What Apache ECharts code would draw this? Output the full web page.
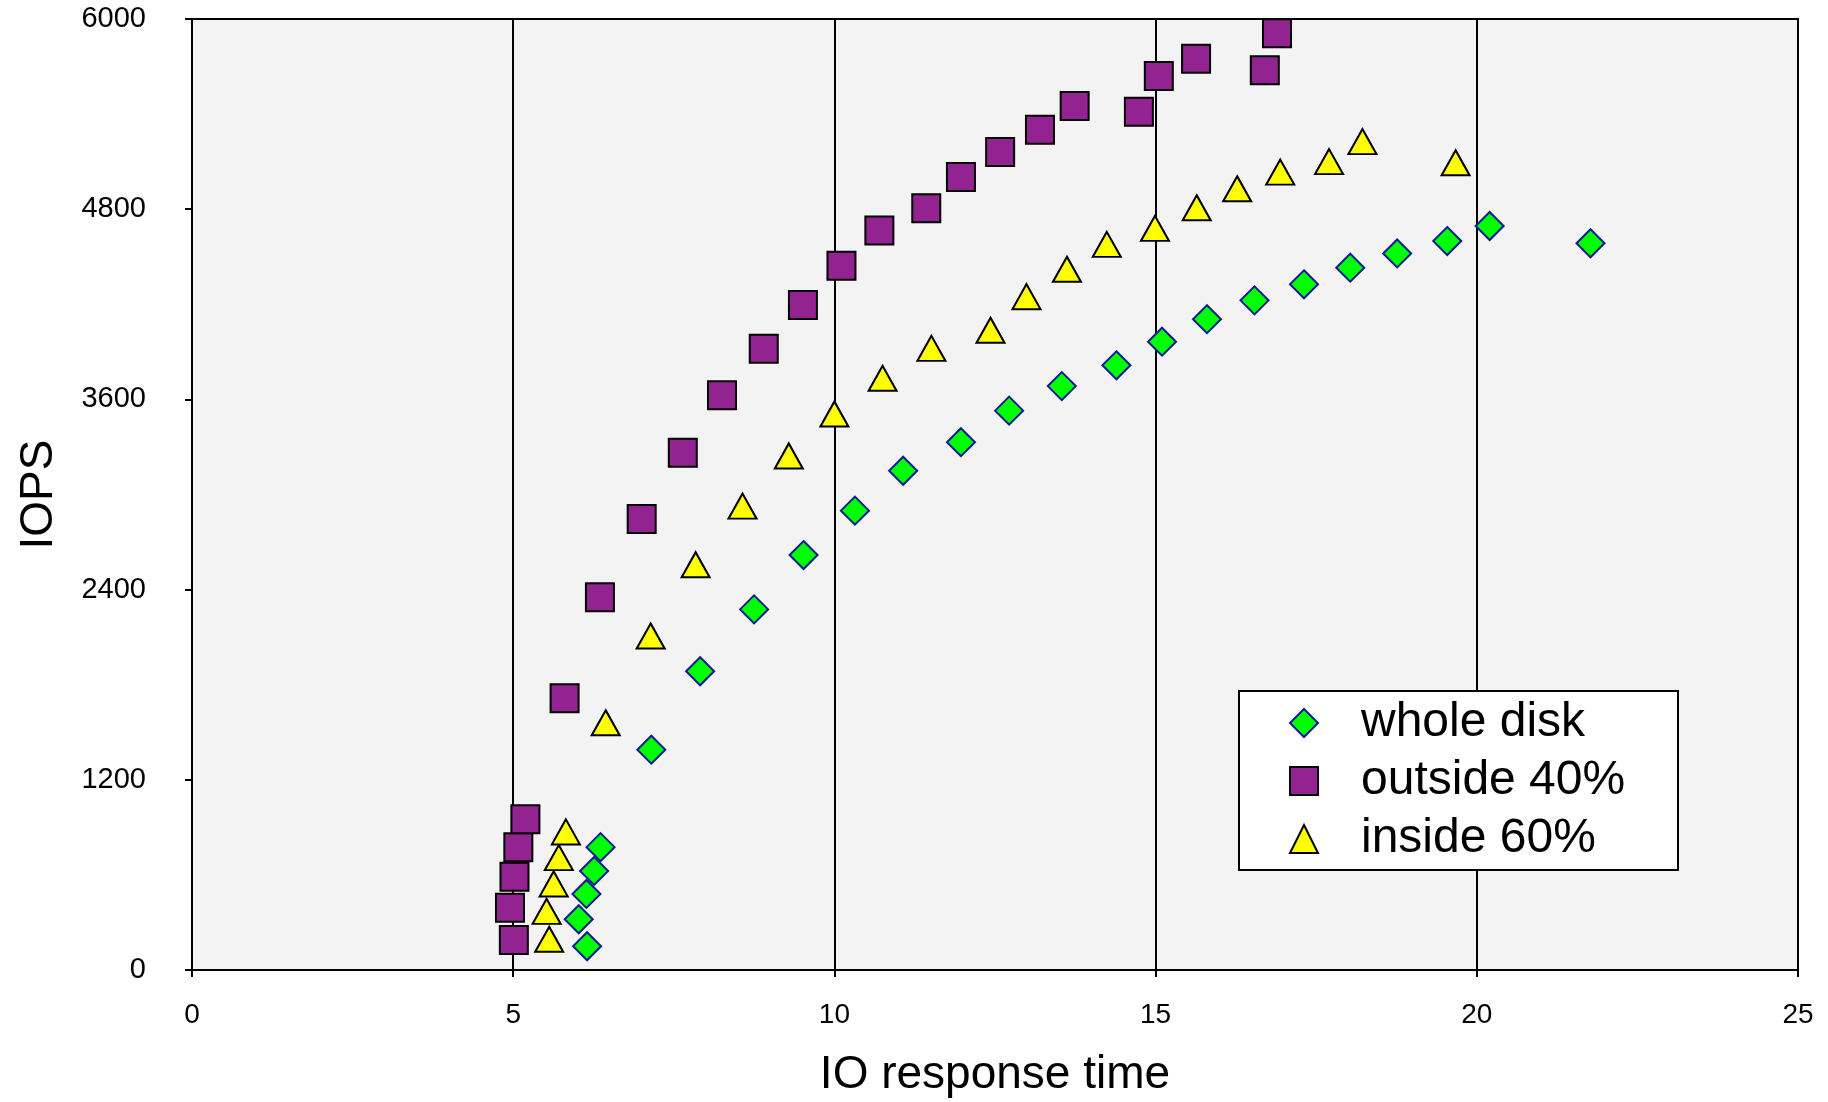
<!DOCTYPE html>
<html>
<head>
<meta charset="utf-8">
<script src="https://cdn.jsdelivr.net/npm/echarts@6/dist/echarts.min.js"></script>
<style>
html,body{margin:0;padding:0;background:#ffffff;width:1828px;height:1102px;overflow:hidden;}
#chart{width:1828px;height:1102px;display:block;}
</style>
</head>
<body>
<div id="chart"></div>
<script>
// ---- data ----
var seriesNames = ['whole disk', 'outside 40%', 'inside 60%'];

var wholeDiskX = [6.15, 6.02, 6.14, 6.26, 6.36, 7.15, 7.91, 8.75, 9.52, 10.32, 11.07, 11.97, 12.72, 13.54, 14.39, 15.10, 15.80, 16.54, 17.31, 18.03, 18.76, 19.54, 20.20, 21.77];
var wholeDiskY = [150, 320, 480, 625, 775, 1390, 1885, 2275, 2618, 2898, 3150, 3330, 3529, 3684, 3815, 3964, 4106, 4225, 4326, 4431, 4521, 4599, 4694, 4585];

var outsideX = [5.01, 4.95, 5.02, 5.08, 5.19, 5.80, 6.35, 7.00, 7.64, 8.25, 8.90, 9.51, 10.11, 10.70, 11.43, 11.97, 12.58, 13.20, 13.74, 14.74, 15.05, 15.63, 16.70, 16.89];
var outsideY = [190, 393, 589, 774, 951, 1714, 2351, 2845, 3264, 3626, 3920, 4196, 4444, 4665, 4806, 5003, 5161, 5301, 5451, 5415, 5640, 5750, 5676, 5910];

var insideX = [5.56, 5.52, 5.63, 5.71, 5.82, 6.44, 7.14, 7.84, 8.57, 9.29, 10.00, 10.75, 11.51, 12.43, 12.99, 13.62, 14.24, 14.99, 15.64, 16.27, 16.94, 17.70, 18.22, 19.67];
var insideY = [194, 370, 543, 709, 871, 1560, 2107, 2557, 2927, 3243, 3508, 3733, 3922, 4036, 4248, 4421, 4578, 4679, 4809, 4929, 5034, 5100, 5226, 5093];

var xAxisTitle = 'IO response time';
var yAxisTitle = 'IOPS';

function pairs(xs, ys) {
  var out = [];
  for (var i = 0; i < xs.length; i++) out.push([xs[i], ys[i]]);
  return out;
}

var FONT = '"Liberation Sans", Arial, Helvetica, sans-serif';
var chart = echarts.init(document.getElementById('chart'), null, {renderer: 'canvas', width: 1828, height: 1102});

var option = {
  animation: false,
  backgroundColor: '#ffffff',
  grid: {
    left: 192, top: 19, right: 30, bottom: 132,
    containLabel: false, outerBoundsMode: 'none',
    show: true, backgroundColor: '#f3f3f3', borderColor: '#000000', borderWidth: 2
  },
  xAxis: {
    type: 'value', min: 0, max: 25, interval: 5,
    name: xAxisTitle, nameLocation: 'middle', nameGap: 82,
    nameTextStyle: {fontFamily: FONT, fontSize: 46, color: '#000'},
    axisLine: {show: true, onZero: false, lineStyle: {color: '#000', width: 2}},
    axisTick: {show: true, length: 7, lineStyle: {color: '#000', width: 2}},
    axisLabel: {fontFamily: FONT, fontSize: 28, color: '#000', margin: 31},
    splitLine: {show: true, lineStyle: {color: '#000', width: 2}}
  },
  yAxis: {
    type: 'value', min: 0, max: 6000, interval: 1200,
    name: yAxisTitle, nameLocation: 'middle', nameGap: 130, nameRotate: 90,
    nameTextStyle: {fontFamily: FONT, fontSize: 46, color: '#000'},
    axisLine: {show: true, onZero: false, lineStyle: {color: '#000', width: 2}},
    axisTick: {show: true, length: 7, lineStyle: {color: '#000', width: 2}},
    axisLabel: {fontFamily: FONT, fontSize: 29, color: '#000', margin: 46,
      formatter: function (v) { return String(v); }},
    splitLine: {show: false}
  },
  graphic: [{
    type: 'rect', z: 10,
    shape: {x: 1239, y: 691, width: 439, height: 179},
    style: {fill: '#ffffff', stroke: '#000000', lineWidth: 2}
  }],
  legend: {
    orient: 'vertical', left: 1289, top: 699, padding: 0, z: 20,
    itemWidth: 28, itemHeight: 28, itemGap: 10,
    textStyle: {fontFamily: FONT, fontSize: 48, lineHeight: 48, color: '#000', padding: [0, 0, 0, 38]},
    data: seriesNames
  },
  series: [
    {
      name: seriesNames[0], type: 'scatter', symbol: 'diamond', symbolSize: [28, 28], z: 3,
      itemStyle: {color: '#00ff00', borderColor: '#0d1a99', borderWidth: 2, opacity: 1},
      data: pairs(wholeDiskX, wholeDiskY)
    },
    {
      name: seriesNames[1], type: 'scatter', symbol: 'rect', symbolSize: [28, 28], z: 3,
      itemStyle: {color: '#922390', borderColor: '#000000', borderWidth: 2, opacity: 1},
      data: pairs(outsideX, outsideY)
    },
    {
      name: seriesNames[2], type: 'scatter', symbol: 'triangle', symbolSize: [28, 25], z: 3,
      itemStyle: {color: '#ffff00', borderColor: '#000000', borderWidth: 2, opacity: 1},
      data: pairs(insideX, insideY)
    }
  ]
};
chart.setOption(option);
</script>
</body>
</html>
